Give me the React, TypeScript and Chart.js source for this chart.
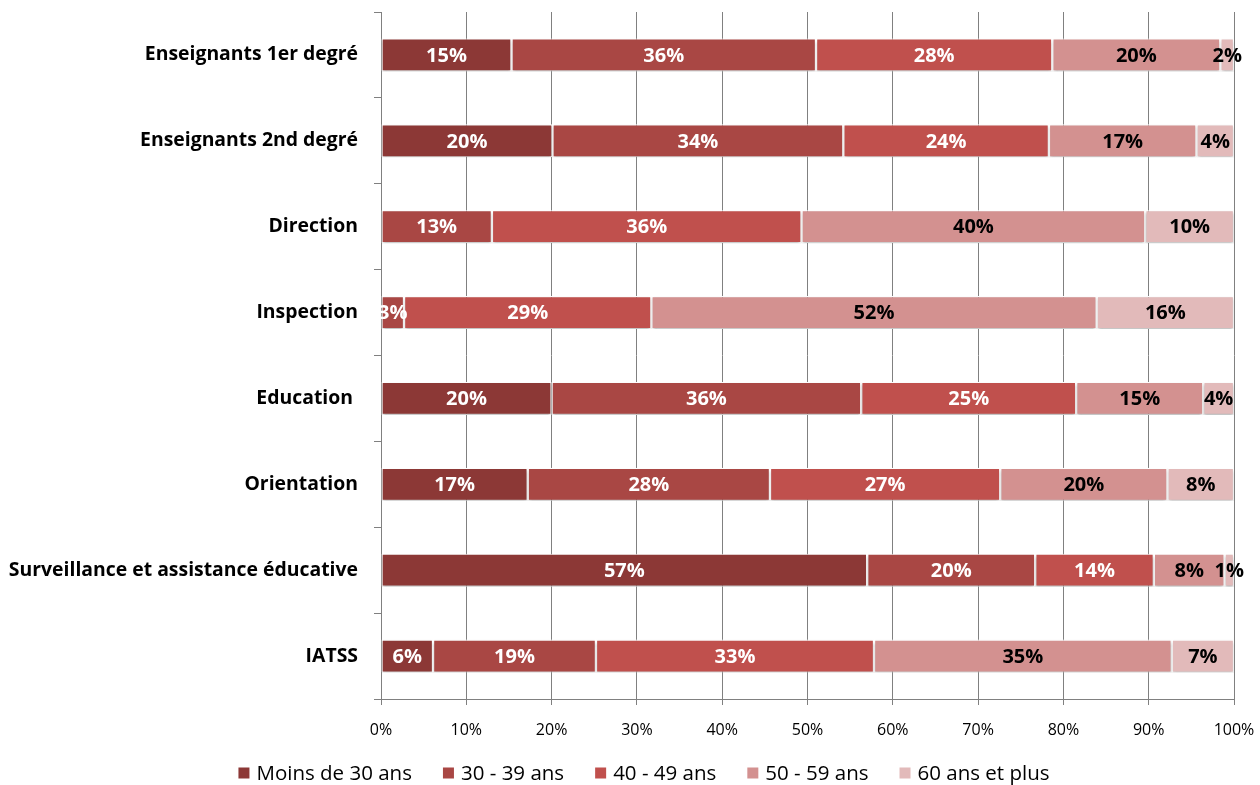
import React, { useEffect, useRef } from "react";
import { Chart, registerables } from "chart.js";

Chart.register(...registerables);

const categories = [
  "Enseignants 1er degré",
  "Enseignants 2nd degré",
  "Direction",
  "Inspection",
  "Education ",
  "Orientation",
  "Surveillance et assistance éducative",
  "IATSS",
];

const seriesNames = ["Moins de 30 ans", "30 - 39 ans", "40 - 49 ans", "50 - 59 ans", "60 ans et plus"];

const moins30 = [15.3, 20.1, 0, 0, 20.0, 17.2, 57.0, 6.1];
const ans30_39 = [35.7, 34.1, 13.0, 2.7, 36.3, 28.4, 19.7, 19.1];
const ans40_49 = [27.7, 24.1, 36.3, 29.0, 25.2, 27.0, 13.9, 32.6];
const ans50_59 = [19.7, 17.3, 40.3, 52.2, 14.9, 19.6, 8.3, 34.9];
const ans60plus = [1.6, 4.4, 10.4, 16.1, 3.6, 7.8, 1.1, 7.3];

const xTicks = [0, 10, 20, 30, 40, 50, 60, 70, 80, 90, 100];

const colors = ["#8C3836", "#A94744", "#C0504D", "#D39190", "#E2BABA"];
const labelColors = ["#FFFFFF", "#FFFFFF", "#FFFFFF", "#000000", "#000000"];

const FONT = "'Open Sans', 'DejaVu Sans', sans-serif";

const shadowPlugin = {
  id: "barShadow",
  beforeDatasetsDraw(chart: any) {
    const ctx = chart.ctx;
    ctx.save();
    ctx.shadowColor = "rgba(0,0,0,0.28)";
    ctx.shadowBlur = 3;
    ctx.shadowOffsetX = 0;
    ctx.shadowOffsetY = 2;
  },
  afterDatasetsDraw(chart: any) {
    chart.ctx.restore();
  },
};

const labelPlugin = {
  id: "segLabels",
  afterDraw(chart: any) {
    const ctx = chart.ctx;
    const area = chart.chartArea;
    ctx.save();
    ctx.beginPath();
    ctx.rect(area.left, area.top, area.right - area.left + 40, area.bottom - area.top);
    ctx.clip();
    ctx.font = `bold 20px ${FONT}`;
    ctx.textAlign = "center";
    ctx.textBaseline = "middle";
    chart.data.datasets.forEach((ds: any, di: number) => {
      const meta = chart.getDatasetMeta(di);
      meta.data.forEach((el: any, i: number) => {
        const v = ds.data[i];
        if (!v || v <= 0) return;
        const props = el.getProps(["x", "y", "base"], true);
        const cx = (props.x + props.base) / 2;
        ctx.fillStyle = labelColors[di];
        ctx.fillText(Math.round(v) + "%", cx, props.y + 1);
      });
    });
    ctx.restore();
  },
};

const legendPlugin = {
  id: "bottomLegend",
  afterDraw(chart: any) {
    const ctx = chart.ctx;
    ctx.save();
    ctx.font = `20.5px ${FONT}`;
    ctx.textBaseline = "middle";
    ctx.textAlign = "left";
    const box = 11;
    const gapText = 7;
    const gapItem = 31;
    const widths = chart.data.datasets.map((ds: any) => ctx.measureText(ds.label).width);
    const total =
      widths.reduce((a: number, w: number) => a + box + gapText + w, 0) + gapItem * (widths.length - 1);
    let x = 644 - total / 2;
    const cy = 773;
    chart.data.datasets.forEach((ds: any, i: number) => {
      ctx.fillStyle = ds.backgroundColor;
      ctx.fillRect(x, cy - box / 2, box, box);
      x += box + gapText;
      ctx.fillStyle = "#000";
      ctx.fillText(ds.label, x, cy + 1);
      x += widths[i] + gapItem;
    });
    ctx.restore();
  },
};

export default function App() {
  const ref = useRef<HTMLCanvasElement>(null);

  useEffect(() => {
    if (!ref.current) return;
    Chart.defaults.font.family = FONT;
    const allSeries = [moins30, ans30_39, ans40_49, ans50_59, ans60plus];
    const chart = new Chart(ref.current, {
      type: "bar",
      data: {
        labels: categories,
        datasets: allSeries.map((d, i) => ({
          label: seriesNames[i],
          data: d,
          backgroundColor: colors[i],
          borderColor: "#FFFFFF",
          borderWidth: 1.2,
          borderSkipped: false,
          categoryPercentage: 1,
          barPercentage: 0.385,
        })),
      },
      options: {
        indexAxis: "y",
        responsive: false,
        animation: false,
        layout: { padding: { top: 12, right: 26, left: 0, bottom: 38 } },
        scales: {
          x: {
            stacked: true,
            min: 0,
            max: 100,
            afterBuildTicks(scale: any) {
              scale.ticks = xTicks.map((v) => ({ value: v }));
            },
            afterFit(scale: any) {
              scale.height = 48;
              scale.paddingLeft = 0;
              scale.paddingRight = 0;
            },
            ticks: {
              callback: (v: any) => v + "%",
              color: "#000",
              font: { size: 16 },
              padding: 16,
              maxRotation: 0,
            },
            grid: { color: "#808080", lineWidth: 1, tickLength: 6, drawTicks: true },
            border: { color: "#808080" },
          },
          y: {
            stacked: true,
            afterFit(scale: any) {
              scale.width = 381;
              scale.paddingTop = 0;
              scale.paddingBottom = 0;
            },
            ticks: {
              color: "#000",
              font: { size: 19.4, weight: "bold" },
              padding: 16,
            },
            grid: { drawOnChartArea: false, drawTicks: true, tickLength: 7, color: "#808080", offset: true },
            border: { color: "#808080" },
          },
        },
        plugins: {
          legend: { display: false },
          tooltip: { enabled: false },
        },
      },
      plugins: [shadowPlugin, labelPlugin, legendPlugin],
    } as any);
    return () => chart.destroy();
  }, []);

  return (
    <div style={{ position: "fixed", left: 0, top: 0, width: 1260, height: 785, background: "#fff" }}>
      <canvas ref={ref} width={1260} height={785} style={{ display: "block" }} />
    </div>
  );
}
